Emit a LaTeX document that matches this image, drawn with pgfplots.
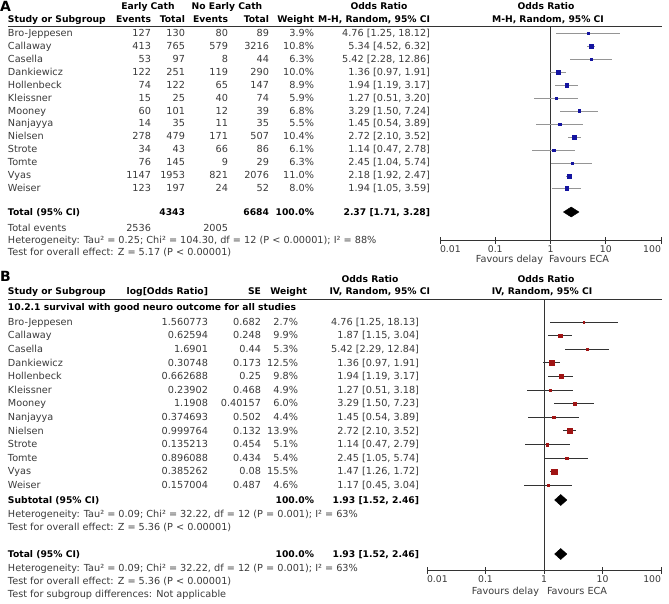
\documentclass[border=0pt]{standalone}
\usepackage{fontspec}
\setmainfont{DejaVu Sans}
\usepackage{pgfplots}
\usepackage{pgfplotstable}
\pgfplotsset{compat=1.18}

\definecolor{ablue}{HTML}{1414A0}
\definecolor{agray}{HTML}{959595}
\definecolor{bred}{HTML}{A01414}
\definecolor{bline}{HTML}{333333}
\definecolor{txt}{HTML}{3A3A3A}

% panel A: odds ratio, 95% CI, weight (%), row position (px from top)
\pgfplotstableread{
or    lo    hi     w     py
4.76  1.25  18.12  3.9   33
5.34  4.52  6.32   10.8  46
5.42  2.28  12.86  6.3   59
1.36  0.97  1.91   10.0  72
1.94  1.19  3.17   8.9   85
1.27  0.51  3.20   5.9   98
3.29  1.50  7.24   6.8   111
1.45  0.54  3.89   5.5   124
2.72  2.10  3.52   10.4  137
1.14  0.47  2.78   6.1   150
2.45  1.04  5.74   6.3   163
2.18  1.92  2.47   11.0  176
1.94  1.05  3.59   8.0   188
}\dataA

% panel B
\pgfplotstableread{
or    lo    hi     w     py
4.76  1.25  18.13  2.7   322
1.87  1.15  3.04   9.9   335.6
5.42  2.29  12.84  5.3   349.2
1.36  0.97  1.91   12.5  362.8
1.94  1.19  3.17   9.8   376.4
1.27  0.51  3.18   4.9   390
3.29  1.50  7.23   6.0   403.6
1.45  0.54  3.89   4.4   417.2
2.72  2.10  3.52   13.9  430.8
1.14  0.47  2.79   5.1   444.4
2.45  1.05  5.74   5.4   458
1.47  1.26  1.72   15.5  471.6
1.17  0.45  3.04   4.6   485.2
}\dataB

\newcommand\Lt[3]{\node[anchor=base west] at (#1,{-(#2)-3.3}) {#3};}
\newcommand\Rt[3]{\node[anchor=base east] at (#1,{-(#2)-3.3}) {#3};}
\newcommand\Ct[3]{\node[anchor=base] at (#1,{-(#2)-3.3}) {#3};}

\begin{document}
\begin{tikzpicture}[x=1pt, y=1pt,
  every node/.style={inner sep=0pt, outer sep=0pt, font=\fontsize{9.7}{11}\selectfont, text=txt}]
\path (0,0) rectangle (669,-603);

% ---------- panel A text ----------
\node[anchor=base west, font=\fontsize{14}{14}\bfseries\selectfont, text=black] at (0,-11) {A};
\begin{scope}[every node/.append style={font=\fontsize{9.2}{11}\bfseries\selectfont, text=black}]
\Ct{148}{6}{Early Cath}
\Ct{227}{6}{No Early Cath}
\Ct{379}{6}{Odds Ratio}
\Ct{546}{6}{Odds Ratio}
\Lt{8}{19}{Study or Subgroup}
\Rt{151}{19}{Events}
\Rt{185}{19}{Total}
\Rt{228}{19}{Events}
\Rt{269}{19}{Total}
\Rt{314}{19}{Weight}
\Rt{430}{19}{M-H, Random, 95\% CI}
\Ct{548}{19}{M-H, Random, 95\% CI}
\Lt{8}{212}{Total (95\% CI)}
\Rt{185}{212}{4343}
\Rt{269}{212}{6684}
\Rt{314}{212}{100.0\%}
\Rt{430}{212}{2.37 [1.71, 3.28]}
\end{scope}
\draw[bline, line width=0.7pt] (8,-26) -- (662,-26);

\foreach \n/\ea/\ta/\eb/\tb/\w/\ci [count=\i from 0] in {
  Bro-Jeppesen/127/130/80/89/3.9/{4.76 [1.25, 18.12]},
  Callaway/413/765/579/3216/10.8/{5.34 [4.52, 6.32]},
  Casella/53/97/8/44/6.3/{5.42 [2.28, 12.86]},
  Dankiewicz/122/251/119/290/10.0/{1.36 [0.97, 1.91]},
  Hollenbeck/74/122/65/147/8.9/{1.94 [1.19, 3.17]},
  Kleissner/15/25/40/74/5.9/{1.27 [0.51, 3.20]},
  Mooney/60/101/12/39/6.8/{3.29 [1.50, 7.24]},
  Nanjayya/14/35/11/35/5.5/{1.45 [0.54, 3.89]},
  Nielsen/278/479/171/507/10.4/{2.72 [2.10, 3.52]},
  Strote/34/43/66/86/6.1/{1.14 [0.47, 2.78]},
  Tomte/76/145/9/29/6.3/{2.45 [1.04, 5.74]},
  Vyas/1147/1953/821/2076/11.0/{2.18 [1.92, 2.47]},
  Weiser/123/197/24/52/8.0/{1.94 [1.05, 3.59]}}{
  \pgfmathsetmacro\yy{33+12.95*\i}
  \Lt{8}{\yy}{\n}
  \Rt{151}{\yy}{\ea}
  \Rt{185}{\yy}{\ta}
  \Rt{228}{\yy}{\eb}
  \Rt{269}{\yy}{\tb}
  \Rt{314}{\yy}{\w\%}
  \Rt{430}{\yy}{\ci}
}
\Lt{8}{228}{Total events}
\Rt{151}{228}{2536}
\Rt{228}{228}{2005}
\Lt{8}{240}{Heterogeneity: Tau² = 0.25; Chi² = 104.30, df = 12 (P < 0.00001); I² = 88\%}
\Lt{8}{252}{Test for overall effect: Z = 5.17 (P < 0.00001)}
\Rt{543}{259}{Favours delay}
\Lt{549}{259}{Favours ECA}

% ---------- panel A plot ----------
\begin{axis}[
  at={(440pt,-240pt)}, anchor=south west,
  scale only axis, width=221pt, height=214pt,
  xmode=log, xmin=0.01, xmax=100,
  ymin=-240, ymax=-26,
  axis x line*=bottom, hide y axis,
  axis line style={bline, line width=0.6pt},
  xtick={0.01,0.1,1,10,100},
  xticklabels={\makebox[0pt][l]{0.01},0.1,1,10,\makebox[0pt][r]{100}},
  xminorticks=false,
  tick align=center, major tick length=7pt,
  tick style={bline, line width=0.6pt},
  xticklabel style={yshift=-2pt, font=\fontsize{9.3}{10}\selectfont},
  clip=false,
]
\addplot[bline, line width=0.6pt] coordinates {(1,-240) (1,-26)};
\addplot[only marks, mark=square*, scatter,
  scatter/use mapped color={draw=ablue, fill=ablue},
  mark options={line width=0.2pt},
  visualization depends on={0.5+0.14*\thisrow{w} \as \msz},
  scatter/@pre marker code/.append style={/tikz/mark size=\msz},
  error bars/.cd, x dir=both, x explicit, error mark=none,
  error bar style={agray, line width=0.9pt}]
  table[x=or, y expr=-\thisrow{py},
    x error plus expr=\thisrow{hi}-\thisrow{or},
    x error minus expr=\thisrow{or}-\thisrow{lo}] {\dataA};
\addplot[fill=black, draw=black] coordinates {(1.71,-212) (2.37,-207) (3.28,-212) (2.37,-217)} -- cycle;
\end{axis}

% ---------- panel B text ----------
\node[anchor=base west, font=\fontsize{14}{14}\bfseries\selectfont, text=black] at (0,-281) {B};
\begin{scope}[every node/.append style={font=\fontsize{9.2}{11}\bfseries\selectfont, text=black}]
\Ct{370}{279}{Odds Ratio}
\Ct{546}{279}{Odds Ratio}
\Lt{8}{291}{Study or Subgroup}
\Rt{208}{291}{log[Odds Ratio]}
\Rt{261}{291}{SE}
\Rt{307}{291}{Weight}
\Rt{430}{291}{IV, Random, 95\% CI}
\Ct{542}{291}{IV, Random, 95\% CI}
\Lt{8}{307}{10.2.1 survival with good neuro outcome for all studies}
\Lt{8}{500}{Subtotal (95\% CI)}
\Rt{314}{500}{100.0\%}
\Rt{419}{500}{1.93 [1.52, 2.46]}
\Lt{8}{554}{Total (95\% CI)}
\Rt{314}{554}{100.0\%}
\Rt{419}{554}{1.93 [1.52, 2.46]}
\end{scope}
\draw[bline, line width=0.7pt] (8,-299) -- (662,-299);

\foreach \n/\lg/\se/\w/\ci [count=\i from 0] in {
  Bro-Jeppesen/1.560773/0.682/2.7/{4.76 [1.25, 18.13]},
  Callaway/0.62594/0.248/9.9/{1.87 [1.15, 3.04]},
  Casella/1.6901/0.44/5.3/{5.42 [2.29, 12.84]},
  Dankiewicz/0.30748/0.173/12.5/{1.36 [0.97, 1.91]},
  Hollenbeck/0.662688/0.25/9.8/{1.94 [1.19, 3.17]},
  Kleissner/0.23902/0.468/4.9/{1.27 [0.51, 3.18]},
  Mooney/1.1908/0.40157/6.0/{3.29 [1.50, 7.23]},
  Nanjayya/0.374693/0.502/4.4/{1.45 [0.54, 3.89]},
  Nielsen/0.999764/0.132/13.9/{2.72 [2.10, 3.52]},
  Strote/0.135213/0.454/5.1/{1.14 [0.47, 2.79]},
  Tomte/0.896088/0.434/5.4/{2.45 [1.05, 5.74]},
  Vyas/0.385262/0.08/15.5/{1.47 [1.26, 1.72]},
  Weiser/0.157004/0.487/4.6/{1.17 [0.45, 3.04]}}{
  \pgfmathsetmacro\yy{322+13.6*\i}
  \Lt{8}{\yy}{\n}
  \Rt{208}{\yy}{\lg}
  \Rt{261}{\yy}{\se}
  \Rt{298}{\yy}{\w\%}
  \Rt{419}{\yy}{\ci}
}
\Lt{8}{514}{Heterogeneity: Tau² = 0.09; Chi² = 32.22, df = 12 (P = 0.001); I² = 63\%}
\Lt{8}{527}{Test for overall effect: Z = 5.36 (P < 0.00001)}
\Lt{8}{568}{Heterogeneity: Tau² = 0.09; Chi² = 32.22, df = 12 (P = 0.001); I² = 63\%}
\Lt{8}{581}{Test for overall effect: Z = 5.36 (P < 0.00001)}
\Lt{8}{594}{Test for subgroup differences: Not applicable}
\Rt{539}{591}{Favours delay}
\Lt{547}{591}{Favours ECA}

% ---------- panel B plot ----------
\begin{axis}[
  at={(427pt,-570pt)}, anchor=south west,
  scale only axis, width=234pt, height=271pt,
  xmode=log, xmin=0.01, xmax=100,
  ymin=-570, ymax=-299,
  axis x line*=bottom, hide y axis,
  axis line style={bline, line width=0.6pt},
  xtick={0.01,0.1,1,10,100},
  xticklabels={\makebox[0pt][l]{0.01},0.1,1,10,\makebox[0pt][r]{100}},
  xminorticks=false,
  tick align=center, major tick length=7pt,
  tick style={bline, line width=0.6pt},
  xticklabel style={yshift=-2pt, font=\fontsize{9.3}{10}\selectfont},
  clip=false,
]
\addplot[bline, line width=0.6pt] coordinates {(1,-570) (1,-299)};
\addplot[only marks, mark=square*, scatter,
  scatter/use mapped color={draw=bred, fill=bred},
  mark options={line width=0.2pt},
  visualization depends on={0.5+0.15*\thisrow{w} \as \msz},
  scatter/@pre marker code/.append style={/tikz/mark size=\msz},
  error bars/.cd, x dir=both, x explicit, error mark=none,
  error bar style={bline, line width=0.9pt}]
  table[x=or, y expr=-\thisrow{py},
    x error plus expr=\thisrow{hi}-\thisrow{or},
    x error minus expr=\thisrow{or}-\thisrow{lo}] {\dataB};
\addplot[fill=black, draw=black] coordinates {(1.52,-500) (1.93,-494.5) (2.46,-500) (1.93,-505.5)} -- cycle;
\addplot[fill=black, draw=black] coordinates {(1.52,-554) (1.93,-548.5) (2.46,-554) (1.93,-559.5)} -- cycle;
\end{axis}
\end{tikzpicture}
\end{document}
